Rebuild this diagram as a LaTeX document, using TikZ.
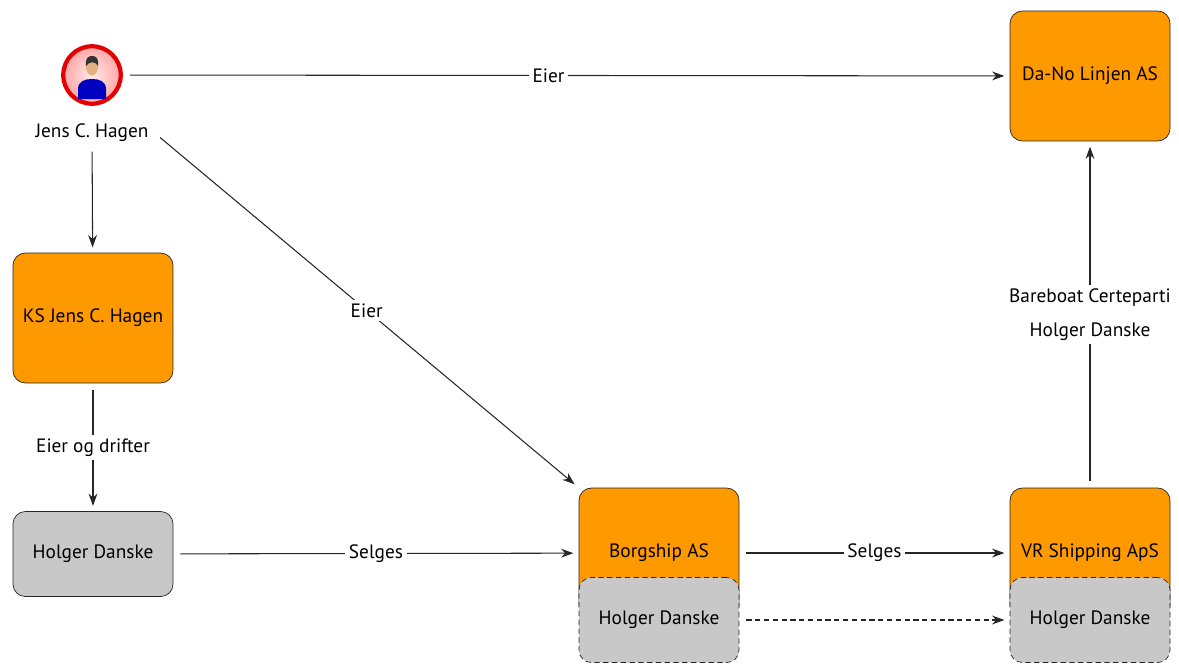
\documentclass[tikz,border=0pt]{standalone}
\usepackage{fontspec}
\setmainfont{PT Sans}
\usetikzlibrary{positioning,arrows.meta}

\definecolor{boxOrange}{HTML}{FF9900}
\definecolor{boxGray}{HTML}{C8C8C8}
\definecolor{lineGray}{HTML}{262626}

\tikzset{>={Stealth[length=7pt,width=5pt]},
	firm/.style={draw=lineGray, fill=boxOrange, rounded corners=7pt, minimum width=3.2cm, minimum height=2.6cm, font=\fontsize{11}{13}\selectfont},
	ship/.style={draw=lineGray, fill=boxGray, rounded corners=7pt, minimum width=3.2cm, minimum height=1.7cm, font=\fontsize{11}{13}\selectfont},
	flow/.style={->, lineGray, line width=0.6pt, shorten <=4pt, shorten >=3pt},
	tag/.style={fill=white, text=black, inner sep=2pt, font=\fontsize{11}{13}\selectfont}
}

\begin{document}
\begin{tikzpicture}[x=0.02cm, y=-0.02cm]
	\useasboundingbox (0,0) rectangle (1179,664);   % frame of the reference
	
	% owner
	\node[circle, draw=red!90!black, line width=2.4pt, inner color=red!8, outer color=red!35, minimum size=1.15cm] (jens) at (92,75) {};
	\fill[blue!75!black] (78,99) -- (78,89) .. controls (78,81) and (85,79) .. (92,79) .. controls (99,79) and (106,81) .. (106,89) -- (106,99) -- cycle;   % shoulders
	\fill[orange!30!brown!60!white] (92,67) ellipse (6 and 8.5);   % head
	\fill[black!80] (86,66) .. controls (85,57) and (89,56) .. (92,56) .. controls (96,56) and (99,58) .. (98,66) .. controls (96,61) and (89,61) .. (86,66) -- cycle;   % hair
	\node[font=\fontsize{11}{13}\selectfont] (jensName) at (92,133) {Jens C. Hagen};
	
	% companies
	\node[firm] (dano) at (1090,76) {Da-No Linjen AS};
	\node[firm] (ks) at (93,318) {KS Jens C. Hagen};
	\node[firm] (borg) at (659,553) {Borgship AS};
	\node[firm] (vr) at (1090,553) {VR Shipping ApS};
	
	% the ship
	\node[ship] (holgerA) at (93,554) {Holger Danske};
	\node[ship, dash pattern=on 3pt off 2pt] (holgerB) at (659,620) {Holger Danske};
	\node[ship, dash pattern=on 3pt off 2pt] (holgerC) at (1090,620) {Holger Danske};
	
	% connectors
	\draw[flow] (jens) -- node[tag, pos=0.48] {Eier} (dano);
	\draw[flow] (jensName.east) -- node[tag] {Eier} (borg.north west);
	\draw[flow, shorten <=2pt] (jensName) -- (ks);
	\draw[flow] (ks) -- node[tag] {Eier og drifter} (holgerA);
	\draw[flow] (holgerA) -- node[tag] {Selges} (borg);
	\draw[flow] (borg) -- node[tag] {Selges} (vr);
	\draw[flow, dash pattern=on 3pt off 2pt] (holgerB) -- (holgerC);
	\draw[flow] (vr) -- node[tag, align=center] {Bareboat Certeparti\\[6pt]Holger Danske} (dano);
\end{tikzpicture}
\end{document}
